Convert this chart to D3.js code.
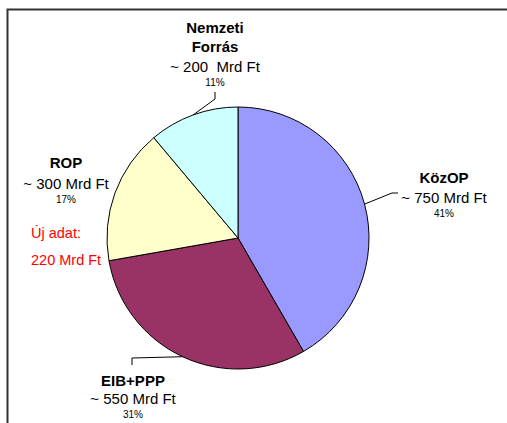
<!DOCTYPE html>
<html>
<head>
<meta charset="utf-8">
<script src="https://cdn.jsdelivr.net/npm/d3@7"></script>
<style>
  html, body { margin: 0; padding: 0; background: #fff; }
  svg { display: block; }
  text { font-family: "Liberation Sans", Arial, sans-serif; }
</style>
</head>
<body>
<svg id="chart" width="507" height="423"></svg>
<script>
// ---- data ----
const categories = ["KözOP", "EIB+PPP", "ROP", "Nemzeti Forrás"];
const titleLines = [["KözOP"], ["EIB+PPP"], ["ROP"], ["Nemzeti", "Forrás"]];
const values = [750, 550, 300, 200];
const amountLabels = ["~ 750 Mrd Ft", "~ 550 Mrd Ft", "~ 300 Mrd Ft", "~ 200  Mrd Ft"];
const percentLabels = ["41%", "31%", "17%", "11%"];
const noteLines = ["Új adat:", "220 Mrd Ft"];
const colors = ["#9999FF", "#993366", "#FFFFCC", "#CCFFFF"];

// ---- layout (not data) ----
const W = 507, H = 423;
const cx = 238, cy = 238, R = 131;
const labelLayout = [
  { x: 444, titleY: [183], amountY: 203, pctY: 217, leader: [[392, 193], [398, 193]] },
  { x: 133, titleY: [386], amountY: 404, pctY: 418, leader: [[132, 358], [132, 365]] },
  { x: 66,  titleY: [168], amountY: 189, pctY: 203, leader: null },
  { x: 215, titleY: [33, 52], amountY: 72, pctY: 86, leader: [[215, 99], [215, 92]] }
];

const svg = d3.select("#chart");

// frame (top and left border)
svg.append("path")
  .attr("d", `M7.5,${H} L7.5,9.5 L${W},9.5`)
  .attr("fill", "none").attr("stroke", "#333").attr("stroke-width", 2);

const pie = d3.pie().sort(null).startAngle(0).endAngle(2 * Math.PI);
const arcs = pie(values);
const arc = d3.arc().innerRadius(0).outerRadius(R);

const g = svg.append("g").attr("transform", `translate(${cx},${cy})`);
g.selectAll("path.slice")
  .data(arcs)
  .enter().append("path")
  .attr("class", "slice")
  .attr("d", arc)
  .attr("fill", (d, i) => colors[i])
  .attr("stroke", "#000")
  .attr("stroke-width", 1);

// leader lines from the slice edge midpoint
arcs.forEach((a, i) => {
  const L = labelLayout[i];
  if (!L.leader) return;
  const mid = (a.startAngle + a.endAngle) / 2;
  const px = cx + R * Math.sin(mid), py = cy - R * Math.cos(mid);
  const pts = [[px, py]].concat(L.leader);
  svg.append("path")
    .attr("d", d3.line()(pts))
    .attr("fill", "none").attr("stroke", "#000").attr("stroke-width", 1);
});

// labels
categories.forEach((c, i) => {
  const L = labelLayout[i];
  titleLines[i].forEach((t, k) => {
    svg.append("text").attr("x", L.x).attr("y", L.titleY[k])
      .attr("text-anchor", "middle").attr("font-size", 15).attr("font-weight", "bold")
      .attr("fill", "#000").text(t);
  });
  svg.append("text").attr("x", L.x).attr("y", L.amountY)
    .attr("text-anchor", "middle").attr("font-size", 15)
    .style("white-space", "pre")
    .attr("fill", "#000").text(amountLabels[i]);
  svg.append("text").attr("x", L.x).attr("y", L.pctY)
    .attr("text-anchor", "middle").attr("font-size", 10)
    .attr("fill", "#000").text(percentLabels[i]);
});

// red note
const noteY = [238, 265];
noteLines.forEach((t, k) => {
  svg.append("text").attr("x", 31).attr("y", noteY[k])
    .attr("font-size", 14.5).attr("fill", "#FF0000").text(t);
});
</script>
</body>
</html>
